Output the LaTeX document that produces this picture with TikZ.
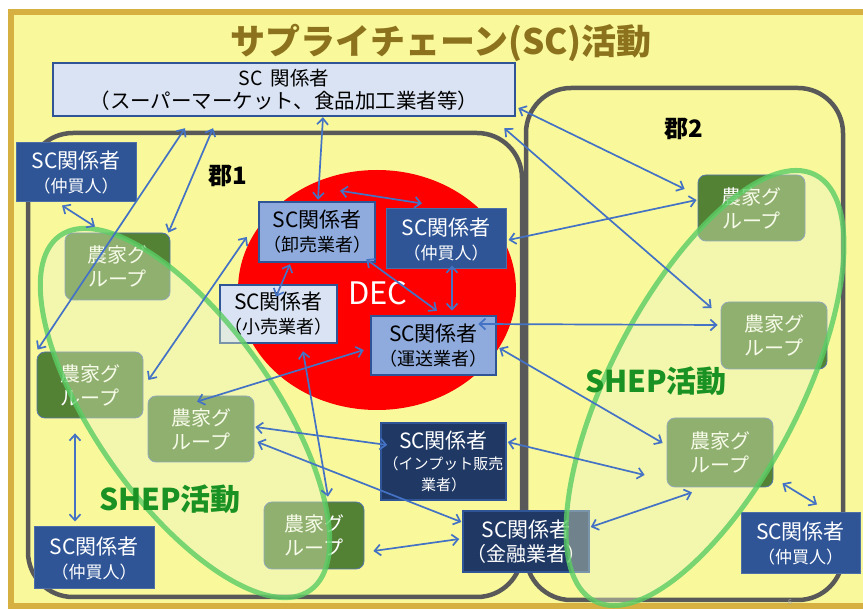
\documentclass[tikz,border=0pt]{standalone}
\usepackage{fontspec}
\setmainfont{Noto Sans CJK JP}
\usetikzlibrary{arrows.meta}
\definecolor{gold}{RGB}{214,176,64}
\definecolor{bgyellow}{RGB}{249,249,155}
\definecolor{titlebrown}{RGB}{140,114,28}
\definecolor{scblue}{RGB}{47,85,151}
\definecolor{scnavy}{RGB}{31,56,100}
\definecolor{scmid}{RGB}{143,170,220}
\definecolor{sclight}{RGB}{218,227,243}
\definecolor{farmgreen}{RGB}{84,130,53}
\definecolor{arrowblue}{RGB}{68,114,196}
\definecolor{gungray}{RGB}{89,89,89}
\definecolor{shepgreen}{RGB}{90,205,100}
\definecolor{sheptext}{RGB}{25,145,35}
\definecolor{shepfill}{RGB}{235,245,200}
\newcommand\SCtwo[2]{{\fontsize{21}{24}\selectfont SC関係者}\\{\fontsize{#1}{24}\selectfont （#2）}}
\begin{document}
\begin{tikzpicture}[x=1pt,y=-1pt,
 box/.style={rectangle, inner sep=0pt, align=center},
 scdark/.style={box, fill=scblue, draw=scblue!85!white, line width=1pt, text=white, font=\fontsize{21}{24}\selectfont},
 scnavybox/.style={box, fill=scnavy, draw=scblue, line width=1.5pt, text=white, font=\fontsize{21}{24}\selectfont},
 scmidbox/.style={box, fill=scmid, draw=scblue, line width=2.5pt, text=black, font=\fontsize{21}{24}\selectfont},
 sclightbox/.style={box, fill=sclight, draw=scblue, line width=2.5pt, text=black, font=\fontsize{21}{24}\selectfont},
 farm/.style={box, rounded corners=8pt, fill=farmgreen, draw=arrowblue!70!gray, line width=0.8pt, text=white, font=\fontsize{20}{24}\selectfont},
 gun/.style={draw=gungray, line width=4.5pt, rounded corners=45pt},
 shep/.style={draw=shepgreen, draw opacity=0.8, line width=5pt, fill=shepfill, fill opacity=0.4},
 link/.style={draw=arrowblue, line width=1.7pt, {Straight Barb[length=6pt,width=11pt]}-{Straight Barb[length=6pt,width=11pt]}},
]
\useasboundingbox (0,0) rectangle (863,609);
\clip (0,0) rectangle (863,609);
\fill[white] (0,0) rectangle (863,609);
\draw[draw=gold, line width=6pt, fill=bgyellow] (11,12) rectangle (875,606);

% districts
\draw[gun] (28,133) rectangle (522,597);
\draw[gun] (526,88) rectangle (843,600);

% DEC circle
\fill[red] (377,290) ellipse [x radius=139pt, y radius=120pt];

% labels
\node[box, text=titlebrown, font=\fontsize{35}{35}\selectfont\bfseries] (title) at (441,43) {サプライチェーン(SC)活動};
\node[box, font=\fontsize{24}{24}\selectfont\bfseries] (gun1) at (228,176) {郡1};
\node[box, font=\fontsize{24}{24}\selectfont\bfseries] (gun2) at (684,129) {郡2};

% SC boxes
\node[sclightbox, minimum width=462pt, minimum height=53pt, font=\fontsize{19.5}{23}\selectfont] (top) at (284,89.5) {SC\hspace{0.4em}関係者\\{\fontsize{20.5}{23}\selectfont （スーパーマーケット、食品加工業者等）}};
\node[scdark, minimum width=120pt, minimum height=59pt] (A) at (76,172.5) {\SCtwo{17}{仲買人}};
\node[scmidbox, minimum width=116pt, minimum height=60pt] (B) at (317,232) {\SCtwo{18}{卸売業者}};
\node[scdark, minimum width=120pt, minimum height=60pt] (C) at (446,239) {\SCtwo{17}{仲買人}};
\node[sclightbox, minimum width=117pt, minimum height=58pt] (D) at (278.5,314) {\SCtwo{18}{小売業者}};
\node[scmidbox, minimum width=125pt, minimum height=59pt] (E) at (433.5,345.5) {\SCtwo{18}{運送業者}};
\node[scnavybox, minimum width=125pt, minimum height=77pt, font=\fontsize{21}{21}\selectfont] (F) at (443.5,461.5) {SC関係者\\{\fontsize{15}{21}\selectfont （インプット販売}\\{\fontsize{15}{21}\selectfont 業者）}};
\node[scnavybox, minimum width=126pt, minimum height=61pt] (G) at (526,541.5) {\SCtwo{20}{金融業者}};
\node[scdark, minimum width=120pt, minimum height=62pt] (H) at (94,558) {\SCtwo{17}{仲買人}};
\node[scdark, minimum width=119pt, minimum height=61pt] (I) at (800.5,543.5) {\SCtwo{17}{仲買人}};

% farmer groups
\node[farm, minimum width=105pt, minimum height=67pt] (F1) at (117.5,266.5) {農家グ\\ループ};
\node[farm, minimum width=106pt, minimum height=66pt] (F2) at (90,385) {農家グ\\ループ};
\node[farm, minimum width=106pt, minimum height=66pt] (F3) at (201,429) {農家グ\\ループ};
\node[farm, minimum width=100pt, minimum height=67pt] (F4) at (314,535.5) {農家グ\\ループ};
\node[farm, minimum width=107pt, minimum height=66pt] (F5) at (751.5,208) {農家グ\\ループ};
\node[farm, minimum width=106pt, minimum height=67pt] (F6) at (774,335.5) {農家グ\\ループ};
\node[farm, minimum width=106pt, minimum height=69pt] (F7) at (720,452.5) {農家グ\\ループ};

\node[box, text=white, font=\fontsize{31}{31}\selectfont] (dec) at (378,293) {DEC};

% SHEP ellipses
\draw[shep, rotate around={-54.8:(185,413)}] (185,413) ellipse [x radius=217pt, y radius=89pt];
\draw[shep, rotate around={62.6:(705,388)}] (705,388) ellipse [x radius=240pt, y radius=95pt];
\node[box, text=sheptext, font=\fontsize{30}{30}\selectfont\bfseries] (shepL) at (170,499) {SHEP活動};
\node[box, text=sheptext, font=\fontsize{30}{30}\selectfont\bfseries] (shepR) at (656,381) {SHEP活動};

% connectors
\draw[link] ([shift={(39,0)}]top.south) -- ([shift={(1,-1)}]B.north);
\draw[link] ([shift={(23,-10)}]B.north) -- ([shift={(-24,-5)}]C.north);
\draw[link] ([shift={(-99,11)}]top.south) -- ([shift={(1,-2)}]F2.north west);
\draw[link] ([shift={(-71,11)}]top.south) -- ([shift={(-2,0)}]F1.north east);
\draw[link] ([shift={(-14,3)}]A.south) -- ([shift={(-22.5,-6)}]F1.north);
\draw[link] ([shift={(-11,5)}]B.west) -- ([shift={(5,-5)}]F2.east);
\draw[link] ([shift={(-27,1)}]B.south) -- ([shift={(-2.5,13)}]D.north);
\draw[link] ([shift={(-10,-4)}]B.south east) -- ([shift={(3.5,-4)}]E.north);
\draw[link] ([shift={(6,-4)}]C.south) -- ([shift={(18.5,-4)}]E.north);
\draw[link] ([shift={(2,1)}]C.east) -- ([shift={(-1,-8)}]F5.west);
\draw[link] ([shift={(2,18.5)}]top.east) -- ([shift={(-13,-19)}]F5.west);
\draw[link] ([shift={(-12,11)}]top.south east) -- ([shift={(-9,-27.5)}]F6.west);
\draw[link] ([shift={(-19,-21.5)}]E.east) -- ([shift={(-3,-10.5)}]F6.west);
\draw[link] ([shift={(2,2.5)}]E.east) -- ([shift={(-4,-9.5)}]F7.west);
\draw[link] ([shift={(-6,4.5)}]E.west) -- ([shift={(-4,6)}]F3.north);
\draw[link] ([shift={(24.5,7)}]D.south) -- ([shift={(14,-5)}]F4.north);
\draw[link] ([shift={(1,-2)}]F3.east) -- ([shift={(7,-16.5)}]F.west);
\draw[link] ([shift={(3,13)}]F3.east) -- ([shift={(-1,-19.5)}]G.west);
\draw[link] ([shift={(9,15.5)}]F4.east) -- ([shift={(-3,-2.5)}]G.west);
\draw[link] ([shift={(1,-19.5)}]F.east) -- ([shift={(-22,22.5)}]F7.west);
\draw[link] ([shift={(1,-14.5)}]G.east) -- ([shift={(-28,5)}]F7.south);
\draw[link] ([shift={(9,-4)}]F7.south east) -- ([shift={(16.5,-8)}]I.north);
\draw[link] ([shift={(-15,15)}]F2.south) -- ([shift={(-19,-5)}]H.north);

\node[box, text=gray!70, font=\fontsize{7}{7}\selectfont] (pg) at (790,602) {6};
\end{tikzpicture}
\end{document}
